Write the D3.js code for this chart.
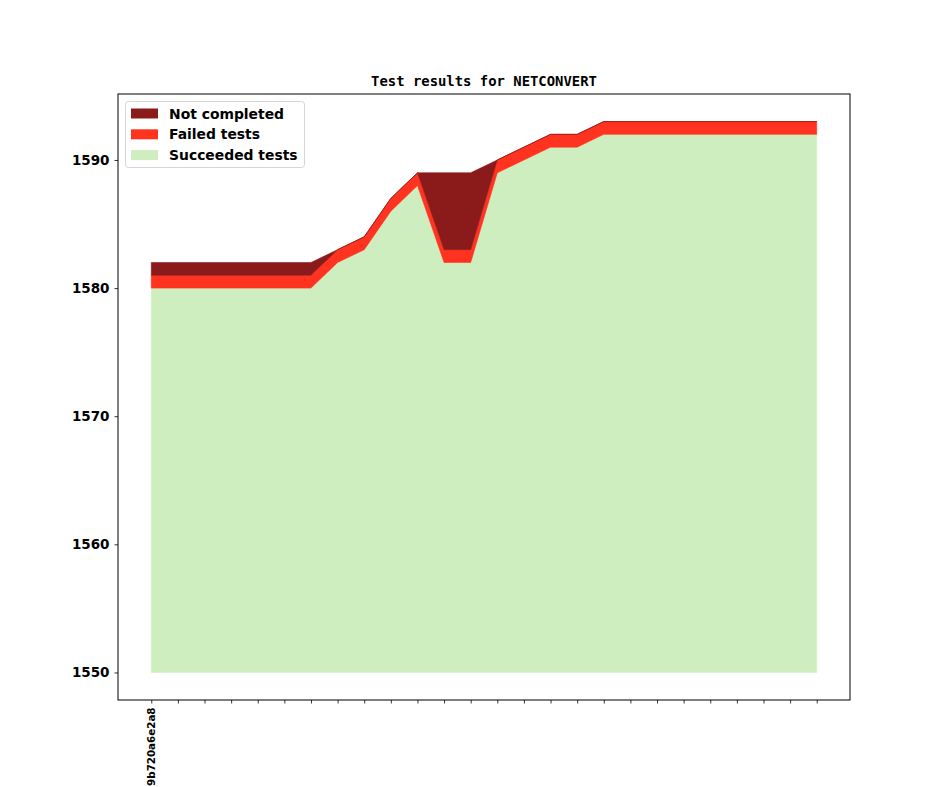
<!DOCTYPE html>
<html>
<head>
<meta charset="utf-8">
<script src="https://cdn.jsdelivr.net/npm/d3@7"></script>
<style>
  body { margin: 0; background: #fff; }
  svg { display: block; }
</style>
</head>
<body>
<div id="chart"></div>
<script>
// one entry per build, only the first label is shown
var builds = ["9b720a6e2a8"];
for (var i = 1; i < 26; i++) builds.push("");

var succeeded = [1580, 1580, 1580, 1580, 1580, 1580, 1580, 1582, 1583, 1586, 1588, 1582, 1582,
                 1589, 1590, 1591, 1591, 1592, 1592, 1592, 1592, 1592, 1592, 1592, 1592, 1592];
var failed    = [1, 1, 1, 1, 1, 1, 1, 1, 1, 1, 1, 1, 1, 1, 1, 1, 1, 1, 1, 1, 1, 1, 1, 1, 1, 1];
var notDone   = [1, 1, 1, 1, 1, 1, 1, 0, 0, 0, 0, 6, 6, 0, 0, 0, 0, 0, 0, 0, 0, 0, 0, 0, 0, 0];
var baseLine = 1550;
var yTicks = [1550, 1560, 1570, 1580, 1590];

var width = 944, height = 787;
var margin = {top: 94, right: 94, bottom: 87, left: 118};

var svg = d3.select("#chart").append("svg")
    .attr("width", width)
    .attr("height", height);

var n = succeeded.length;
var x = d3.scaleLinear()
    .domain([-0.05 * (n - 1), (n - 1) * 1.05])
    .range([margin.left, width - margin.right]);

var yMax = d3.max(succeeded.map((d, i) => d + failed[i] + notDone[i]));
var pad = (yMax - baseLine) * 0.05;
var y = d3.scaleLinear()
    .domain([baseLine - pad, yMax + pad])
    .range([height - margin.bottom, margin.top]);

var rows = succeeded.map((d, i) => ({
    i: i,
    s0: baseLine,
    s1: d,
    f1: d + failed[i],
    n1: d + failed[i] + notDone[i]
}));

var layers = [
    {name: "Succeeded tests", color: "#cfeebf", lo: "s0", hi: "s1"},
    {name: "Failed tests", color: "#ff331f", lo: "s1", hi: "f1"},
    {name: "Not completed", color: "#8b1a1a", lo: "f1", hi: "n1"}
];

layers.forEach(function(l) {
    var area = d3.area()
        .x(d => x(d.i))
        .y0(d => y(d[l.lo]))
        .y1(d => y(d[l.hi]));
    svg.append("path")
        .datum(rows)
        .attr("d", area)
        .attr("fill", l.color)
        .attr("stroke", l.color)
        .attr("stroke-width", 0.6);
});

// axes
var xAxis = d3.axisBottom(x)
    .tickValues(d3.range(n))
    .tickSize(3.5)
    .tickFormat(d => builds[d]);

var gx = svg.append("g")
    .attr("transform", "translate(0," + (height - margin.bottom) + ")")
    .call(xAxis);
gx.select(".domain").remove();
gx.selectAll(".tick line").attr("stroke", "#000").attr("stroke-width", 0.8);
gx.selectAll(".tick text")
    .attr("transform", "rotate(-90)")
    .attr("text-anchor", "end")
    .attr("x", -7.5)
    .attr("y", 0)
    .attr("dy", "0.35em")
    .style("font-family", "DejaVu Sans")
    .style("font-weight", "bold")
    .style("font-size", "10.3px")
    .attr("fill", "#000");

var yAxis = d3.axisLeft(y)
    .tickValues(yTicks)
    .tickSize(3.5)
    .tickPadding(5)
    .tickFormat(d3.format("d"));

var gy = svg.append("g")
    .attr("transform", "translate(" + margin.left + ",0)")
    .call(yAxis);
gy.select(".domain").remove();
gy.selectAll(".tick line").attr("stroke", "#000").attr("stroke-width", 0.8);
gy.selectAll(".tick text")
    .style("font-family", "DejaVu Sans")
    .style("font-weight", "bold")
    .style("font-size", "13.5px")
    .attr("fill", "#000");

// frame
svg.append("rect")
    .attr("x", margin.left)
    .attr("y", margin.top)
    .attr("width", width - margin.left - margin.right)
    .attr("height", height - margin.top - margin.bottom)
    .attr("fill", "none")
    .attr("stroke", "#000")
    .attr("stroke-width", 1);

svg.append("text")
    .attr("x", (margin.left + width - margin.right) / 2)
    .attr("y", margin.top - 8)
    .attr("text-anchor", "middle")
    .style("font-family", "DejaVu Sans Mono")
    .style("font-weight", "bold")
    .style("font-size", "13.9px")
    .text("Test results for NETCONVERT");

// legend
var legend = svg.append("g").attr("transform", "translate(125.5,101.5)");
legend.append("rect")
    .attr("width", 179)
    .attr("height", 66)
    .attr("rx", 3)
    .attr("fill", "#fff")
    .attr("fill-opacity", 0.8)
    .attr("stroke", "#d6d6d6")
    .attr("stroke-width", 1);

var items = layers.slice().reverse();
items.forEach(function(l, k) {
    var cy = 12 + k * 20.8;
    legend.append("rect")
        .attr("x", 5.5)
        .attr("y", cy - 5)
        .attr("width", 27)
        .attr("height", 10)
        .attr("fill", l.color);
    legend.append("text")
        .attr("x", 43.5)
        .attr("y", cy)
        .attr("dy", "0.36em")
        .style("font-family", "DejaVu Sans")
        .style("font-weight", "bold")
        .style("font-size", "13.9px")
        .text(l.name);
});
</script>
</body>
</html>
